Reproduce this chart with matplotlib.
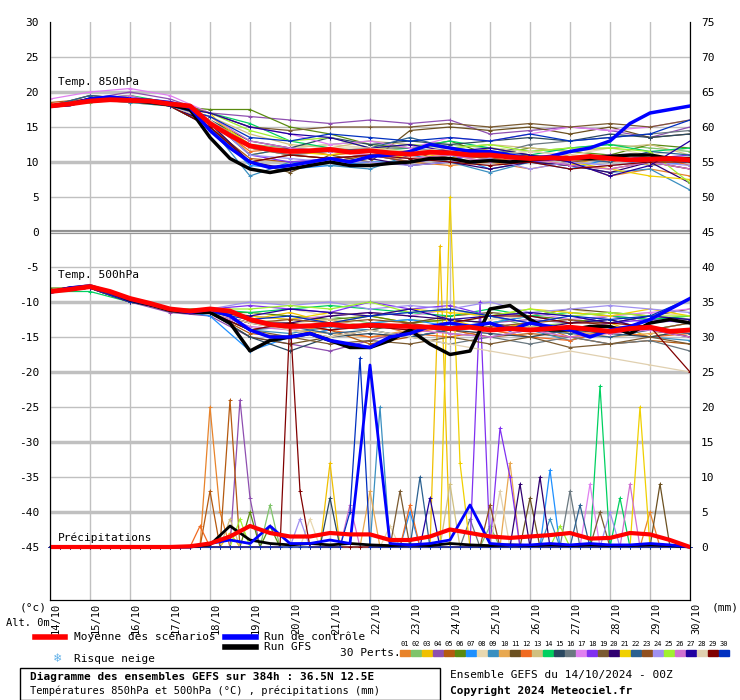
import numpy as np
import matplotlib.pyplot as plt
import matplotlib.transforms as mtransforms
from matplotlib.patches import Rectangle
from matplotlib.lines import Line2D

plt.rcParams['font.family'] = 'DejaVu Sans Mono'

days = ['14/10', '15/10', '16/10', '17/10', '18/10', '19/10', '20/10', '21/10', '22/10',
        '23/10', '24/10', '25/10', '26/10', '27/10', '28/10', '29/10', '30/10']

member_colors = ['#e8832a', '#7fc46a', '#f0c000', '#8e4fb0', '#b55a10', '#5a8a10', '#1e90ff', '#e8d8b0',
                 '#3a8fc0', '#e8a850', '#6b5020', '#f06a20', '#d0c080', '#00d060', '#2a4860', '#6a7880',
                 '#e080f0', '#8030f0', '#7a5a30', '#300070', '#f0d000', '#2a6090', '#905020', '#a090f0',
                 '#a0f030', '#d070d0', '#2000a0', '#e0d0b0', '#800000', '#0030c0']

# 850 hPa, daily values per member
t850 = [
    [18, 19, 19, 18, 16, 12, 11, 10.5, 11, 10, 9.5, 10, 9, 10, 8, 9, 8],
    [18, 18.5, 19, 18, 16, 12.5, 12, 12.5, 13, 12, 12.5, 12, 11.5, 12, 12.5, 12, 11.5],
    [18, 19, 18.5, 18, 17, 11, 12, 11, 11.5, 10.5, 11, 10, 10.5, 9.5, 11, 10, 10],
    [18, 19, 20, 19, 17, 16.5, 16, 15.5, 16, 15.5, 16, 14, 14.5, 15, 14.5, 13.5, 15],
    [18.5, 19, 19, 18, 15, 10.5, 10, 10, 11, 11.5, 10, 10.5, 10, 9.5, 9, 10, 9],
    [18, 19, 19, 18, 17.5, 17.5, 15, 14, 12.5, 12, 13, 11, 12, 11.5, 11, 12.5, 12],
    [18, 19, 19, 18, 15, 9.5, 9, 9.5, 10, 10, 11, 9, 10, 9, 10.5, 9.5, 10],
    [18, 19.5, 19, 18, 16, 13, 12, 12.5, 12, 12, 11, 12, 11.5, 11, 12, 11, 12],
    [18, 19, 18.5, 18, 15, 8, 10, 9.5, 9, 11, 10, 8.5, 10, 9.5, 8.5, 9, 6],
    [18, 19, 19, 18.5, 16, 12, 11, 12, 11.5, 10, 11, 10.5, 11, 10, 11, 9.5, 10.5],
    [18, 19.5, 19, 18, 15.5, 10, 8.5, 11, 10, 14.5, 15, 14.5, 15, 14, 15, 13.5, 14],
    [18, 19, 19.5, 18, 16, 11.5, 12, 11, 11.5, 11, 12, 10.5, 10, 11, 10, 11, 9.5],
    [18, 19, 19, 18, 16.5, 14, 12.5, 12, 13, 12.5, 12, 12.5, 12, 11.5, 12, 12.5, 11],
    [18, 19, 19.5, 18.5, 17, 15.5, 13, 12, 11.5, 12, 13, 12, 11, 12, 12.5, 11.5, 12],
    [18, 19, 19, 18, 16, 13, 12, 13.5, 12.5, 13, 12.5, 13, 13.5, 13, 14, 13.5, 14],
    [18, 19, 19, 18, 16, 12, 11, 11.5, 12, 12, 11.5, 11, 12.5, 13, 13.5, 14, 14.5],
    [19, 20, 20.5, 19.5, 17, 15, 14, 12.5, 13, 12, 13.5, 13, 14, 15, 14.5, 15, 16],
    [18, 19, 19, 18, 16, 11, 10, 10.5, 11, 10, 10.5, 11, 10, 10.5, 11, 10.5, 11],
    [18, 19, 19, 18.5, 17, 15, 14.5, 15, 15, 15, 15.5, 15, 15.5, 15, 15.5, 15, 16],
    [18, 19, 19, 18, 15.5, 10, 9, 10, 10.5, 9.5, 10, 9, 10, 9.5, 8.5, 10, 7],
    [18, 19, 19, 18, 16.5, 12.5, 11.5, 11, 12, 11.5, 10.5, 12, 11, 10, 9, 8, 7.5],
    [18, 19.5, 19, 18, 16, 11, 12, 11.5, 12, 13.5, 12, 11.5, 11, 10.5, 10, 11.5, 11],
    [18, 19, 19, 18, 15, 10, 11, 10.5, 11, 10, 11, 10.5, 11, 10, 10.5, 10, 9],
    [18, 19, 19, 18, 16, 11, 10.5, 10, 10, 9.5, 10, 10.5, 9, 10, 9.5, 10, 9.5],
    [18, 19, 19, 18, 17, 14.5, 13, 13.5, 12, 12.5, 12, 12.5, 11.5, 12, 12, 11.5, 7],
    [18, 19, 19.5, 18, 16.5, 13, 12, 11.5, 11, 10.5, 11, 10, 10.5, 9.5, 9, 10, 9],
    [18, 19, 19, 18, 17, 15, 14, 13.5, 12, 12.5, 11.5, 12, 11, 10, 8, 9.5, 13],
    [18, 19, 19, 18, 16, 12, 11.5, 12, 12, 11.5, 12, 11, 11.5, 11, 10.5, 11, 10],
    [18, 19, 19, 18, 15, 10, 11, 10.5, 11, 10.5, 10, 9.5, 10, 9, 9.5, 10, 10],
    [18, 19, 19, 18, 16.5, 13.5, 13, 14, 13.5, 13, 13.5, 13, 14, 13, 13.5, 14, 16],
]

# 500 hPa, daily values per member
t500 = [
    [-8.5, -8, -10, -11, -11.5, -13, -13.5, -14, -13, -14.5, -13.5, -14, -13, -15, -14, -13.5, -15],
    [-8.5, -8, -10, -11, -11, -12, -12.5, -12, -13, -12.5, -13, -12, -13.5, -13, -12, -12.5, -12],
    [-8.5, -7.5, -9.5, -11, -11, -12.5, -11.5, -13, -12, -13, -12.5, -14, -13, -14.5, -13, -15, -14],
    [-8.5, -8, -10, -11.5, -12, -15, -16, -17, -15.5, -14, -13.5, -13, -12.5, -13, -12, -13, -12.5],
    [-8.5, -8, -10, -11, -11.5, -14.5, -15, -14, -16, -15, -14, -15, -14.5, -15, -16, -15.5, -16],
    [-8, -8, -10, -11, -11.5, -11.5, -12, -12.5, -12, -13, -12.5, -13, -12, -12.5, -13, -12, -12.5],
    [-8.5, -8, -10, -11, -12, -17, -15, -14, -13, -12.5, -13.5, -13, -12, -13, -12.5, -14, -13],
    [-8.5, -7.5, -10, -11, -11, -12, -11, -12, -11.5, -12, -11, -12.5, -12, -11, -12, -11.5, -12],
    [-8.5, -8, -10, -11, -11.5, -14, -14.5, -13.5, -14, -13, -14.5, -15, -14, -15.5, -14, -15, -15.5],
    [-8.5, -8, -10, -11, -11.5, -13, -14, -14.5, -15, -14, -13, -14, -15, -14, -15, -14.5, -14],
    [-8.5, -8, -10, -11, -11.5, -15, -16, -15, -14, -13, -12, -11.5, -12, -11, -11.5, -12, -11],
    [-8.5, -8, -10, -11, -11.5, -14, -13, -14, -15, -14.5, -15, -14, -15, -15.5, -14, -15, -14.5],
    [-8.5, -8, -9.5, -11, -11, -12.5, -13, -12.5, -13.5, -14, -13, -14, -13.5, -14, -13.5, -14, -13],
    [-8.5, -8.5, -10, -11, -11, -11.5, -11, -10.5, -11, -11.5, -12, -11, -12, -11.5, -12, -12.5, -12],
    [-8.5, -8, -10, -11, -11.5, -15, -17, -15, -14.5, -15, -14, -14.5, -15, -14, -14.5, -15, -14],
    [-8.5, -8, -10, -11, -11.5, -13, -14, -15, -14, -15, -16, -15, -16, -15, -16, -15.5, -17],
    [-8.5, -8, -10, -11, -11.5, -12, -12.5, -12, -11.5, -12, -11, -12, -11.5, -12.5, -12, -11.5, -11],
    [-8.5, -8, -10, -11, -11, -10.5, -11, -11.5, -10, -11, -10.5, -12, -13, -14, -13, -12.5, -13],
    [-8.5, -8, -10, -11, -11.5, -14, -15, -16, -15.5, -16, -15, -16, -15, -16.5, -16, -15, -16],
    [-8.5, -8, -10, -11, -11.5, -13, -13, -12, -11.5, -12, -12.5, -13, -14, -13, -12.5, -14, -15],
    [-8.5, -8, -10, -11, -11.5, -12, -12.5, -11.5, -12, -11, -11.5, -12, -11, -11.5, -12, -11, -12],
    [-8.5, -8, -10, -11, -11.5, -14, -13.5, -14.5, -14, -15, -14, -13, -14, -14.5, -15, -14, -14.5],
    [-8.5, -8, -10, -11, -11.5, -13, -12.5, -13, -12.5, -13, -14, -13.5, -13, -12.5, -13.5, -14, -13],
    [-8.5, -8, -10, -11, -11, -10, -10.5, -10, -11, -10.5, -11, -10, -11.5, -11, -10.5, -11, -11.5],
    [-8.5, -8, -10, -11, -11, -11, -10.5, -11, -10, -11.5, -11, -12, -11, -12, -11.5, -12, -12],
    [-8.5, -8, -10, -11, -11.5, -13.5, -14, -13, -13.5, -14, -14.5, -15, -14, -15, -14.5, -14, -15],
    [-8.5, -8, -10, -11, -11.5, -12, -11, -11.5, -12, -11, -12.5, -12, -11.5, -12, -13, -12, -12.5],
    [-8.5, -7.5, -10, -11, -11.5, -13, -14, -15, -14, -15, -16, -17, -18, -17, -18, -19, -20],
    [-8.5, -8, -10, -11, -11.5, -14, -13, -14, -13.5, -14, -13, -12, -12, -13, -13, -13.5, -20],
    [-8.5, -8, -10, -11, -11.5, -12.5, -12, -13, -12, -11.5, -11, -12, -13, -12, -12.5, -12, -9.5],
]

# precipitation peaks of the members: (member, hour, mm), zero elsewhere
precip_peaks = [
    (1, 96, 20), (1, 102, 5), (12, 90, 3), (5, 108, 21), (5, 96, 8), (4, 114, 21), (4, 120, 7),
    (29, 144, 33), (29, 150, 8), (30, 186, 27), (30, 180, 5), (9, 198, 20), (21, 240, 50),
    (21, 246, 12), (3, 234, 43), (18, 258, 35), (18, 270, 17), (18, 276, 10), (20, 282, 9),
    (20, 294, 10), (7, 300, 11), (11, 288, 7), (10, 276, 12), (16, 312, 8), (17, 324, 9),
    (14, 330, 23), (14, 342, 7), (21, 354, 20), (11, 366, 9), (26, 348, 9), (24, 336, 5),
    (13, 108, 4), (2, 132, 6), (6, 120, 5), (8, 156, 4), (15, 168, 7), (19, 210, 8), (22, 222, 10),
    (23, 264, 6), (25, 114, 4), (27, 228, 7), (28, 270, 8), (3, 168, 12), (12, 216, 6), (1, 360, 5),
    (9, 300, 4), (7, 216, 5), (10, 192, 8), (26, 180, 6), (13, 240, 9), (22, 318, 6), (2, 264, 3),
    (24, 150, 4), (19, 330, 5), (3, 108, 2), (6, 132, 3), (8, 204, 3), (16, 252, 4), (25, 306, 3),
]

# 12-hourly series
mean_850 = [18, 18.3, 18.7, 18.9, 18.8, 18.7, 18.3, 18.0, 15.5, 13.8, 12.3, 11.8, 11.5, 11.6, 11.8, 11.4,
            11.6, 11.3, 11.1, 11.4, 11.3, 11.0, 11.0, 10.7, 10.5, 10.6, 10.5, 10.8, 10.5, 10.3, 10.4, 10.5, 10.3]
ctrl_850 = [18, 18.2, 19, 19.3, 19, 18.8, 18.5, 17.8, 14.5, 12, 10, 9.2, 9.5, 10, 10.5, 10, 10.8, 11,
            11.5, 12.5, 12, 11.5, 11.5, 11, 10.5, 10.8, 11.5, 12, 13, 15.5, 17, 17.5, 18]
gfs_850 = [18, 18.2, 19, 19, 18.8, 18.5, 18.2, 17.5, 13.5, 10.5, 9, 8.5, 9, 9.5, 10, 9.5, 9.5, 9.8,
           10, 10.5, 10.5, 10, 10.2, 10, 10.3, 10.5, 10.5, 10.5, 10.8, 11, 11, 10.5, 10.5]
mean_500 = [-8.5, -8.2, -7.8, -8.5, -9.5, -10.2, -11, -11.3, -11, -11.3, -12.5, -13.2, -13.5, -13.4, -13.2,
            -13.5, -13.3, -13.4, -13.5, -13.6, -13.8, -13.6, -14, -13.8, -14, -13.8, -13.6, -13.9, -14.2,
            -13.8, -13.6, -14.2, -14]
ctrl_500 = [-8.6, -8.0, -7.7, -8.6, -9.6, -10.3, -11, -11.5, -11, -12, -14, -15, -15, -14.5, -15.5, -16,
            -16.5, -15, -14.5, -13.5, -13, -13.5, -13, -14, -13, -13.5, -14, -15, -14, -13.5, -12.5, -11, -9.5]
gfs_500 = [-8.6, -8.0, -7.8, -8.6, -9.7, -10.4, -11.2, -11.5, -11.5, -13, -17, -15.5, -15, -14.5, -15.5,
           -16.5, -16.5, -15.5, -14, -16, -17.5, -17, -11, -10.5, -12.5, -14, -14, -13.5, -13.5, -14.5,
           -13, -12.5, -13]
mean_pr = [0, 0, 0, 0, 0, 0, 0, 0.1, 0.5, 1.5, 3, 2, 1.5, 1.5, 2, 1.8, 1.8, 1, 1, 1.5, 2.5, 2,
           1.5, 1.3, 1.5, 1.7, 2, 1.2, 1.3, 2, 1.8, 1, 0]
ctrl_pr = [0, 0, 0, 0, 0, 0, 0, 0, 0.5, 1, 0.5, 3, 0.5, 0.5, 1, 0.5, 26, 0.5, 0.3, 0.5, 1, 6,
           0.5, 0.3, 0.3, 0.5, 0.3, 0.5, 0.3, 0.3, 0.5, 0.3, 0]
gfs_pr = [0, 0, 0, 0, 0, 0, 0, 0, 0.3, 3, 1, 0.5, 0.3, 0.5, 0.3, 0.5, 0.3, 0.2, 0.3, 0.2, 0.5, 0.3,
          0.2, 0.3, 0.2, 0.3, 0.2, 0.3, 0.2, 0.2, 0.3, 0.2, 0]

PR_OFF = -45  # precipitation 0 mm sits on -45 of the left scale

fig = plt.figure(figsize=(7.4, 7.0), dpi=100)
ax = fig.add_axes([50 / 740, 1 - 600 / 700, 640 / 740, 578 / 700])
ax.set_xlim(0, 16)
ax.set_ylim(30 - 578 / 7, 30)

# grid
for d in range(17):
    ax.axvline(d, color='#c0c0c0', lw=1, zorder=0)
for v in range(25, -50, -5):
    thick = v in (20, 10, -10, -20, -30, -40)
    ax.axhline(v, color='#c0c0c0', lw=2.5 if thick else 1, zorder=0)
ax.axhline(0, color='#909090', lw=3, zorder=0)
ax.axhline(0, color='#e0e0e0', lw=0.8, zorder=0)

xd = np.arange(17)
x12 = np.arange(33) / 2
x6 = np.arange(65) / 4

for i in range(30):
    c = member_colors[i]
    ax.plot(xd, t850[i], color=c, lw=0.9, marker='+', ms=3, mew=0.7, zorder=2)
    ax.plot(xd, t500[i], color=c, lw=0.9, marker='+', ms=3, mew=0.7, zorder=2)
    pr = np.zeros(65)
    for m, h, val in precip_peaks:
        if m == i + 1:
            pr[h // 6] = val
    ax.plot(x6, pr + PR_OFF, color=c, lw=0.9, marker='+', ms=3, mew=0.7, zorder=2, clip_on=False)

for ser in (gfs_850, gfs_500):
    ax.plot(x12, ser, color='black', lw=2.5, zorder=3)
ax.plot(x12, np.array(gfs_pr) + PR_OFF, color='black', lw=2, zorder=3)
for ser in (ctrl_850, ctrl_500):
    ax.plot(x12, ser, color='#0000ff', lw=2.5, zorder=4)
ax.plot(x12, np.array(ctrl_pr) + PR_OFF, color='#0000ff', lw=2, zorder=4)
for ser in (mean_850, mean_500):
    ax.plot(x12, ser, color='#ff0000', lw=3.5, zorder=5)
ax.plot(x12, np.array(mean_pr) + PR_OFF, color='#ff0000', lw=3, zorder=5)

ax.text(0.2, 21, 'Temp. 850hPa', fontsize=8)
ax.text(0.2, -6.6, 'Temp. 500hPa', fontsize=8)
ax.text(0.2, -44.2, 'Précipitations', fontsize=8)

# axes styling
ax.spines['top'].set_visible(False)
ax.set_xticks(xd)
ax.set_xticklabels(days, rotation=90, fontsize=7.5, va='top', ha='center')
ax.tick_params(axis='x', length=0, pad=2)
shift = mtransforms.ScaledTranslation(6 / 100, 0, fig.dpi_scale_trans)
for lab in ax.get_xticklabels():
    lab.set_transform(lab.get_transform() + shift)
ax.set_yticks(range(30, -50, -5))
ax.set_yticklabels([str(v) for v in range(30, -50, -5)], fontsize=8)
ax.tick_params(axis='y', length=0, pad=8)
ax2 = ax.twinx()
ax2.set_ylim(ax.get_ylim())
ax2.set_yticks(range(30, -50, -5))
ax2.set_yticklabels([str(v + 45) for v in range(30, -50, -5)], fontsize=8)
ax2.tick_params(axis='y', length=0, pad=8)
ax2.spines['top'].set_visible(False)

# footer texts
fig.text(20 / 740, 1 - 607 / 700, '(°c)', fontsize=8, va='center')
fig.text(50 / 740, 1 - 623 / 700, 'Alt. 0m', fontsize=7.5, va='center', ha='right')
fig.text(712 / 740, 1 - 607 / 700, '(mm)', fontsize=8, va='center')

fig.add_artist(Line2D([35 / 740, 65 / 740], [1 - 637 / 700] * 2, color='#ff0000', lw=4))
fig.text(74 / 740, 1 - 637 / 700, 'Moyenne des scénarios', fontsize=8, va='center')
fig.add_artist(Line2D([225 / 740, 256 / 740], [1 - 637 / 700] * 2, color='#0000ff', lw=4))
fig.text(264 / 740, 1 - 637 / 700, 'Run de contrôle', fontsize=8, va='center')
fig.add_artist(Line2D([225 / 740, 256 / 740], [1 - 647 / 700] * 2, color='black', lw=4))
fig.text(264 / 740, 1 - 647 / 700, 'Run GFS', fontsize=8, va='center')
fig.text(340 / 740, 1 - 653 / 700, '30 Perts.', fontsize=8, va='center')
fig.text(54 / 740, 1 - 659 / 700, '❄', fontsize=9, va='center', color='#60b0e8')
fig.text(74 / 740, 1 - 659 / 700, 'Risque neige', fontsize=8, va='center')

fig.add_artist(Rectangle((20 / 740, 1 - 700 / 700), 420 / 740, 32 / 700, fill=False,
                         edgecolor='black', lw=1, transform=fig.transFigure))
fig.text(30 / 740, 1 - 677 / 700, 'Diagramme des ensembles GEFS sur 384h : 36.5N 12.5E',
         fontsize=8, fontweight='bold', va='center')
fig.text(30 / 740, 1 - 691 / 700, 'Températures 850hPa et 500hPa (°C) , précipitations (mm)',
         fontsize=7.5, va='center')
fig.text(450 / 740, 1 - 675 / 700, 'Ensemble GEFS du 14/10/2024 - 00Z', fontsize=8, va='center')
fig.text(450 / 740, 1 - 691 / 700, 'Copyright 2024 Meteociel.fr', fontsize=8,
         fontweight='bold', va='center')

for i, c in enumerate(member_colors):
    x0 = 400 + i * 11
    fig.text((x0 + 5) / 740, 1 - 644 / 700, '%02d' % (i + 1), fontsize=5, ha='center', va='center')
    fig.add_artist(Rectangle((x0 / 740, 1 - 656 / 700), 10 / 740, 6 / 700, color=c,
                             transform=fig.transFigure))

fig.savefig('out.png', dpi=100)
